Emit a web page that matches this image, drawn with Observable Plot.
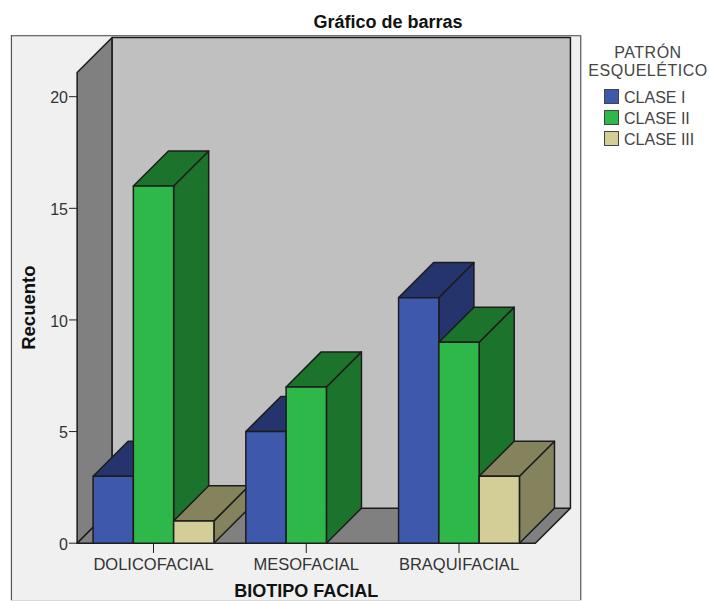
<!DOCTYPE html>
<html>
<head>
<meta charset="utf-8">
<script src="https://cdn.jsdelivr.net/npm/d3@7"></script>
<script src="https://cdn.jsdelivr.net/npm/@observablehq/plot@0.6"></script>
<style>
html,body{margin:0;padding:0;background:#fff;}
#wrap{position:relative;width:709px;height:601px;font-family:"Liberation Sans",Arial,sans-serif;overflow:hidden;}
#title{position:absolute;left:288px;width:200px;top:12px;text-align:center;font-weight:bold;font-size:18px;color:#111;white-space:nowrap;}
#legend{position:absolute;left:580px;top:44px;width:136px;color:#444;font-size:16px;}
#legend .t{text-align:center;line-height:18px;font-size:16px;letter-spacing:.5px;margin-bottom:9px;}
#legend .r{position:relative;height:21.2px;line-height:18px;padding-left:44px;}
#legend .s{position:absolute;left:24px;top:0;width:13px;height:13px;border:1.5px solid #444;}
</style>
</head>
<body>
<div id="wrap">
<div id="title">Gráfico de barras</div>
<div id="legend"></div>
</div>
<script>
const categories = ["DOLICOFACIAL", "MESOFACIAL", "BRAQUIFACIAL"];
const classes = ["CLASE I", "CLASE II", "CLASE III"];
const claseI = [3, 5, 11];
const claseII = [16, 7, 9];
const claseIII = [1, 0, 3];
const yTicks = [0, 5, 10, 15, 20];
const frontColors = ["#3e58ac", "#2fb84a", "#d3ce97"];
const shadeColors = ["#25346c", "#1c742c", "#85835e"];

// 3D projection, in scale units
const barW = 0.2637, depthX = 0.2295, depthY = 1.57;
const xMin = -0.5, xMax = 2.5, yTop = 21.08;

let id = 0;
const polys = [];
function poly(pts, fill) {
  id++;
  const k = id;
  [...pts, pts[0]].forEach(([x, y]) => polys.push({x, y, k, fill}));
}
// walls and floor
poly([[xMin, yTop],[xMin+depthX, yTop+depthY],[xMin+depthX, depthY],[xMin, 0]], "#808080");
poly([[xMin, 0],[xMin+depthX, depthY],[xMax+depthX, depthY],[xMax, 0]], "#808080");
poly([[xMin+depthX, yTop+depthY],[xMax+depthX, yTop+depthY],[xMax+depthX, depthY],[xMin+depthX, depthY]], "#c0c0c0");

categories.forEach((c, i) => {
  [claseI, claseII, claseIII].forEach((series, s) => {
    const v = series[i];
    if (!v) return;
    const x0 = i + (s - 1.5) * barW, x1 = x0 + barW;
    poly([[x1, 0],[x1+depthX, depthY],[x1+depthX, v+depthY],[x1, v]], shadeColors[s]);
    poly([[x0, v],[x1, v],[x1+depthX, v+depthY],[x0+depthX, v+depthY]], shadeColors[s]);
    poly([[x0, 0],[x1, 0],[x1, v],[x0, v]], frontColors[s]);
  });
});

const panelX1 = -0.93, panelX2 = 2.797, panelY1 = -2.58, panelY2 = 22.73;

const chart = Plot.plot({
  width: 709,
  height: 601,
  marginLeft: 77,
  marginBottom: 58,
  marginTop: 0,
  marginRight: 173,
  style: {background: "transparent", fontFamily: '"Liberation Sans", Arial, sans-serif', overflow: "visible"},
  x: {domain: [0, 2], range: [153, 458.5], axis: null},
  y: {domain: [0, 20], range: [542.7, 96.2], axis: null},
  marks: [
    Plot.rect([0], {x1: panelX1, x2: panelX2, y1: panelY1, y2: panelY2, fill: "#f0f0f0"}),
    Plot.ruleX([panelX1, panelX2], {y1: panelY1, y2: panelY2, stroke: "#555", strokeWidth: 1.2}),
    Plot.ruleY([panelY2], {x1: panelX1, x2: panelX2, stroke: "#444", strokeWidth: 1.2}),
    Plot.ruleY([panelY1], {x1: panelX1, x2: panelX2, stroke: "#ccc", strokeWidth: 1}),
    Plot.line(polys, {x: "x", y: "y", z: "k", fill: "fill", stroke: "#1c1c1c", strokeWidth: 1.5, curve: "linear", strokeLinejoin: "round"}),
    Plot.axisY({ticks: yTicks, anchor: "left", tickSize: 8, text: null, label: null, stroke: "#222"}),
    Plot.axisY({ticks: yTicks, anchor: "left", tickSize: 0, tickPadding: 9.5, dy: 1.5, fontSize: 16, fill: "#333", tickFormat: d => d, label: null}),
    Plot.axisX({ticks: [0, 1, 2], anchor: "bottom", tickSize: 10, tickPadding: 5, fontSize: 16.5, color: "#333", tickFormat: d => categories[d], label: null, stroke: "#222"}),
    Plot.text(["BIOTIPO FACIAL"], {x: 1, y: -2.16, text: d => d, fontWeight: "bold", fontSize: 18, fill: "#111"}),
    Plot.text(["Recuento"], {x: -0.815, y: 10.55, text: d => d, rotate: -90, fontWeight: "bold", fontSize: 18.5, fill: "#111"})
  ]
});
document.getElementById("wrap").prepend(chart);

const legend = document.getElementById("legend");
legend.innerHTML = '<div class="t">PATRÓN<br>ESQUELÉTICO</div>' + classes.map((c, i) =>
  `<div class="r"><span class="s" style="background:${frontColors[i]}"></span>${c}</div>`).join("");
</script>
</body>
</html>
